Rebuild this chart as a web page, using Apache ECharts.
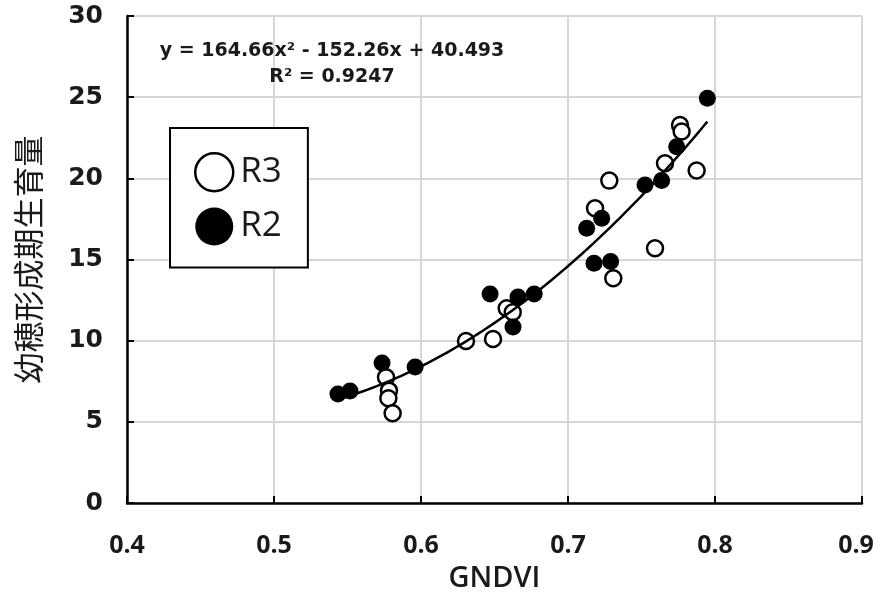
<!DOCTYPE html>
<html>
<head>
<meta charset="utf-8">
<script src="https://cdn.jsdelivr.net/npm/echarts@6/dist/echarts.min.js"></script>
<style>
  html, body { margin: 0; padding: 0; background: #fff; overflow: hidden; }
  #chart { width: 877px; height: 599px; }
</style>
</head>
<body>
<div id="chart"></div>
<script>
// GNDVI vs. growth amount at panicle initiation, two plots (R3 open, R2 filled)
const r3Gndvi  = [0.5762, 0.5782, 0.5778, 0.5807, 0.6306, 0.6490, 0.6583, 0.6624, 0.7184, 0.7281, 0.7308, 0.7592, 0.7660, 0.7762, 0.7773, 0.7875];
const r3Growth = [7.74,   6.92,   6.45,   5.53,   9.98,   10.10,  12.00,  11.75,  18.16,  19.86,  13.84,  15.69,  20.93,  23.29,  22.88,  20.48];

const r2Gndvi  = [0.5435, 0.5517, 0.5735, 0.5960, 0.6470, 0.6626, 0.6660, 0.6770, 0.7127, 0.7229, 0.7177, 0.7290, 0.7524, 0.7637, 0.7739, 0.7948];
const r2Growth = [6.72,   6.90,   8.63,   8.38,   12.88,  10.84,  12.69,  12.88,  16.93,  17.54,  14.77,  14.87,  19.59,  19.86,  21.95,  24.94];

// quadratic trendline y = a x^2 + b x + c, fitted on both plots
const fitCoef = [164.66, -152.26, 40.493];
const fitRange = [0.5435, 0.7948];
const fitLabel = 'y = 164.66x\u00B2 - 152.26x + 40.493';
const r2Label = 'R\u00B2 = 0.9247';

const xTicks = [0.4, 0.5, 0.6, 0.7, 0.8, 0.9];
const yTicks = [0, 5, 10, 15, 20, 25, 30];

function pairs(xs, ys) { return xs.map((x, i) => [x, ys[i]]); }

const fitLine = [];
for (let i = 0; i <= 100; i++) {
  const x = fitRange[0] + (fitRange[1] - fitRange[0]) * i / 100;
  fitLine.push([x, fitCoef[0] * x * x + fitCoef[1] * x + fitCoef[2]]);
}

const chart = echarts.init(document.getElementById('chart'));
const gridColor = '#d6d6d6';
const ink = '#1a1a1a';
const xMax = xTicks[xTicks.length - 1];

chart.setOption({
  animation: false,
  backgroundColor: '#fff',
  grid: { left: 127, top: 16, right: 15, bottom: 96, containLabel: false, outerBoundsMode: 'none' },
  xAxis: {
    type: 'value',
    min: xTicks[0], max: xMax, interval: 0.1,
    name: 'GNDVI', nameLocation: 'middle', nameGap: 61,
    nameTextStyle: { fontFamily: 'Open Sans', fontWeight: 600, fontSize: 29, color: ink },
    axisLine: { lineStyle: { color: '#000', width: 2.5 } },
    axisTick: { inside: true, length: 7, lineStyle: { color: '#000', width: 2 } },
    axisLabel: {
      margin: 30, fontFamily: 'Open Sans', fontWeight: 'bold', fontSize: 25, color: ink,
      // keep the last label inside the page edge
      formatter: v => Math.abs(v - xMax) < 1e-9 ? '{edge|' + v.toFixed(1) + '}' : v.toFixed(1),
      rich: { edge: { fontFamily: 'Open Sans', fontWeight: 'bold', fontSize: 25, color: ink, padding: [0, 12, 0, 0] } }
    },
    splitLine: { show: true, lineStyle: { color: gridColor, width: 2 } }
  },
  yAxis: {
    type: 'value',
    min: yTicks[0], max: yTicks[yTicks.length - 1], interval: 5,
    name: '幼穂形成期生育量', nameLocation: 'middle', nameGap: 83, nameRotate: 90,
    nameTextStyle: { fontFamily: 'Noto Sans CJK JP', fontSize: 31, color: ink },
    axisLine: { show: true, lineStyle: { color: '#000', width: 2.5 } },
    axisTick: { show: true, inside: true, length: 7, lineStyle: { color: '#000', width: 2 } },
    axisLabel: { margin: 24, fontFamily: 'DejaVu Sans', fontWeight: 'bold', fontSize: 25, color: ink },
    splitLine: { show: true, lineStyle: { color: gridColor, width: 2 } }
  },
  legend: {
    orient: 'vertical', left: 170, top: 128,
    padding: [24, 26, 22, 24], itemGap: 15,
    itemWidth: 38, itemHeight: 38, icon: 'circle',
    backgroundColor: '#fff', borderColor: '#000', borderWidth: 2,
    itemStyle: { borderWidth: 2.5 },
    textStyle: { fontFamily: 'Open Sans', fontSize: 35, color: ink, padding: [0, 0, 0, 2] },
    data: [
      { name: 'R3', itemStyle: { color: '#fff', borderColor: '#000', borderWidth: 2.5 } },
      { name: 'R2', itemStyle: { color: '#000', borderColor: '#000', borderWidth: 0 } }
    ]
  },
  graphic: [
    { type: 'text', x: 332, y: 51, z: 100,
      style: { text: fitLabel, fill: ink, font: 'bold 19px "DejaVu Sans"', align: 'center', verticalAlign: 'middle' } },
    { type: 'text', x: 332, y: 77, z: 100,
      style: { text: r2Label, fill: ink, font: 'bold 19px "DejaVu Sans"', align: 'center', verticalAlign: 'middle' } }
  ],
  series: [
    { name: 'R3', type: 'scatter', data: pairs(r3Gndvi, r3Growth), symbol: 'circle', symbolSize: 16, z: 3,
      itemStyle: { color: '#fff', borderColor: '#000', borderWidth: 2.5, opacity: 1 } },
    { name: 'R2', type: 'scatter', data: pairs(r2Gndvi, r2Growth), symbol: 'circle', symbolSize: 17, z: 4,
      itemStyle: { color: '#000', opacity: 1 } },
    { name: 'fit', type: 'line', data: fitLine, showSymbol: false, symbol: 'none', z: 5, silent: true,
      lineStyle: { color: '#000', width: 2.5 } }
  ]
});
</script>
</body>
</html>
